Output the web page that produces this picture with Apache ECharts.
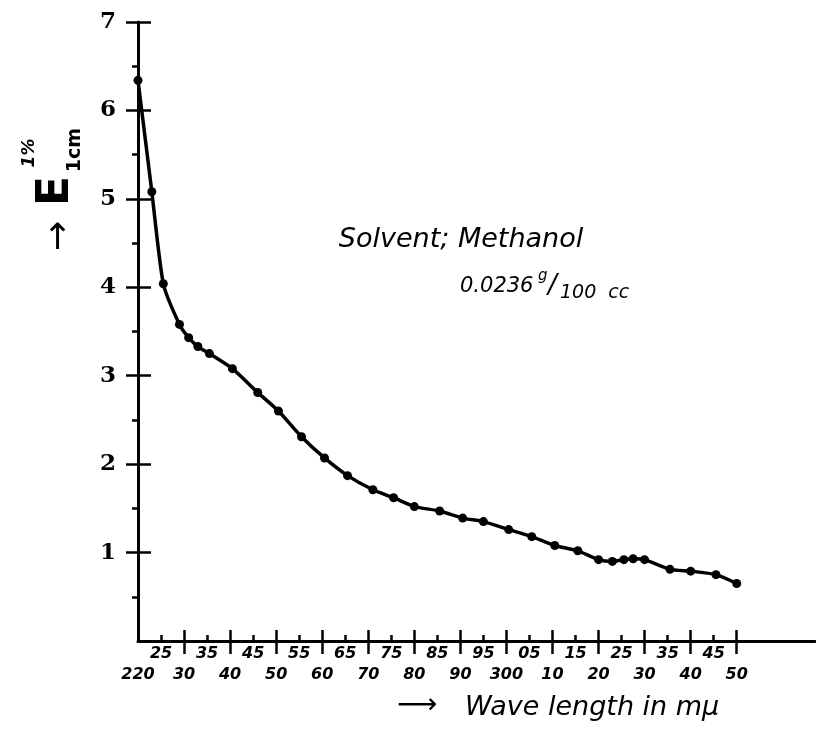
<!DOCTYPE html>
<html><head><meta charset="utf-8">
<script src="https://cdn.jsdelivr.net/npm/echarts@6/dist/echarts.min.js"></script>
<style>html,body{margin:0;padding:0;background:#fff}#c{width:816px;height:738px}</style>
</head><body><div id="c"></div>
<script>
// Wavelength (mμ) and E(1%, 1cm)
const wavelengths = [220,223,225.5,229,231,233,235.5,240.5,246,250.5,255.5,260.5,265.5,271,275.5,280,285.5,290.5,295,300.5,305.5,310.5,315.5,320,323,325.5,327.5,330,335.5,340,345.5,350];
const extinction  = [6.34,5.08,4.04,3.58,3.43,3.33,3.25,3.08,2.81,2.60,2.31,2.07,1.87,1.71,1.62,1.52,1.47,1.39,1.35,1.26,1.18,1.08,1.02,0.92,0.90,0.92,0.93,0.92,0.81,0.79,0.75,0.65];

const yTickValues  = [1,2,3,4,5,6,7];
const yTickLabels  = ['1','2','3','4','5','6','7'];
const yMinorValues = [0.5,1.5,2.5,3.5,4.5,5.5,6.5];

const xMajorValues = [220,230,240,250,260,270,280,290,300,310,320,330,340,350];
const xMajorLabels = ['220','30','40','50','60','70','80','90','300','10','20','30','40','50'];
const xMinorValues = [225,235,245,255,265,275,285,295,305,315,325,335,345];
const xMinorLabels = ['25','35','45','55','65','75','85','95','05','15','25','35','45'];

const X_MIN = 220, X_MAX = 367, Y_MIN = 0, Y_MAX = 7;

const chart = echarts.init(document.getElementById('c'), null, {renderer:'canvas'});
const black = '#000';
const lblFont = {fontFamily:'DejaVu Sans', fontStyle:'italic', fontWeight:'bold', fontSize:16, color:black};

function xAx(extra){
  return Object.assign({
    type:'value', min:X_MIN, max:X_MAX, gridIndex:0, position:'bottom',
    axisLine:{show:false, onZero:true}, axisTick:{show:false}, axisLabel:{show:false},
    splitLine:{show:false}
  }, extra);
}
function yAx(extra){
  return Object.assign({
    type:'value', min:Y_MIN, max:Y_MAX, interval:1, gridIndex:0, position:'left',
    axisLine:{show:false}, axisTick:{show:false}, axisLabel:{show:false},
    splitLine:{show:false}
  }, extra);
}

const option = {
  animation:false,
  backgroundColor:'#fff',
  grid:{left:138, top:22, width:677, height:619},
  xAxis:[
    xAx({
      axisLine:{show:true, onZero:true, lineStyle:{color:black, width:3}},
      axisTick:{show:true, customValues:xMajorValues.slice(1), length:13, inside:false, lineStyle:{color:black, width:2.5}},
      axisLabel:Object.assign({show:true, customValues:xMajorValues, margin:26,
        formatter:v => xMajorLabels[xMajorValues.indexOf(v)] || ''}, lblFont)
    }),
    xAx({
      axisTick:{show:true, customValues:xMajorValues.slice(1), length:11, inside:true, lineStyle:{color:black, width:2.5}},
      axisLabel:Object.assign({show:true, customValues:xMinorValues, margin:5,
        formatter:v => xMinorLabels[xMinorValues.indexOf(v)] || ''}, lblFont)
    }),
    xAx({
      axisTick:{show:true, customValues:xMinorValues, length:6, inside:true, lineStyle:{color:black, width:2.5}}
    })
  ],
  yAxis:[
    yAx({
      axisLine:{show:true, lineStyle:{color:black, width:3}},
      axisTick:{show:true, customValues:yTickValues, length:12, inside:false, lineStyle:{color:black, width:2.5}},
      axisLabel:{show:true, customValues:yTickValues, margin:22,
        formatter:v => yTickLabels[yTickValues.indexOf(v)] || '',
        fontFamily:'DejaVu Serif', fontWeight:'bold', fontSize:23, color:black}
    }),
    yAx({
      axisTick:{show:true, customValues:yTickValues, length:13, inside:true, lineStyle:{color:black, width:2.5}}
    }),
    yAx({
      axisTick:{show:true, customValues:yMinorValues, length:6, inside:false, lineStyle:{color:black, width:2.5}}
    })
  ],
  series:[{
    type:'line', xAxisIndex:0, yAxisIndex:0,
    data:wavelengths.map((w,i)=>[w, extinction[i]]),
    smooth:0.2, symbol:'circle', symbolSize:9,
    itemStyle:{color:black}, lineStyle:{color:black, width:3.5},
    clip:false
  }],
  graphic:[
    // y-axis title (rotated): arrow, E, superscript 1%, subscript 1cm
    {type:'text', x:60, y:236, rotation:Math.PI/2, style:{text:'→', fontFamily:'DejaVu Sans', fontSize:36, fill:black, align:'center', verticalAlign:'middle'}},
    {type:'text', x:57, y:191, rotation:Math.PI/2, style:{text:'E', fontFamily:'DejaVu Sans', fontWeight:'bold', fontSize:44, fill:black, align:'center', verticalAlign:'middle'}},
    {type:'text', x:30, y:153, rotation:Math.PI/2, style:{text:'1%', fontFamily:'DejaVu Sans', fontStyle:'italic', fontWeight:'bold', fontSize:17, fill:black, align:'center', verticalAlign:'middle'}},
    {type:'text', x:75, y:150, rotation:Math.PI/2, style:{text:'1cm', fontFamily:'DejaVu Sans', fontWeight:'bold', fontSize:19, fill:black, align:'center', verticalAlign:'middle'}},
    // annotation
    {type:'text', x:461, y:240, style:{text:'Solvent; Methanol', fontFamily:'DejaVu Sans', fontStyle:'italic', fontSize:27, fill:black, align:'center', verticalAlign:'middle'}},
    {type:'text', x:460, y:287, style:{text:'0.0236', fontFamily:'DejaVu Sans', fontStyle:'italic', fontSize:21, fill:black, align:'left', verticalAlign:'middle'}},
    {type:'text', x:538, y:276, style:{text:'g', fontFamily:'DejaVu Sans', fontStyle:'italic', fontSize:15, fill:black, align:'left', verticalAlign:'middle'}},
    {type:'text', x:548, y:286, style:{text:'/', fontFamily:'DejaVu Sans', fontStyle:'italic', fontSize:26, fill:black, align:'left', verticalAlign:'middle'}},
    {type:'text', x:560, y:293, style:{text:'100  cc', fontFamily:'DejaVu Sans', fontStyle:'italic', fontSize:19, fill:black, align:'left', verticalAlign:'middle'}},
    // x-axis title
    {type:'text', x:397, y:706, style:{text:'⟶', fontFamily:'DejaVu Sans', fontSize:28, fill:black, align:'left', verticalAlign:'middle'}},
    {type:'text', x:465, y:708, style:{text:'Wave length in mμ', fontFamily:'DejaVu Sans', fontStyle:'italic', fontSize:27, fill:black, align:'left', verticalAlign:'middle'}}
  ]
};
chart.setOption(option);
</script>
</body></html>
